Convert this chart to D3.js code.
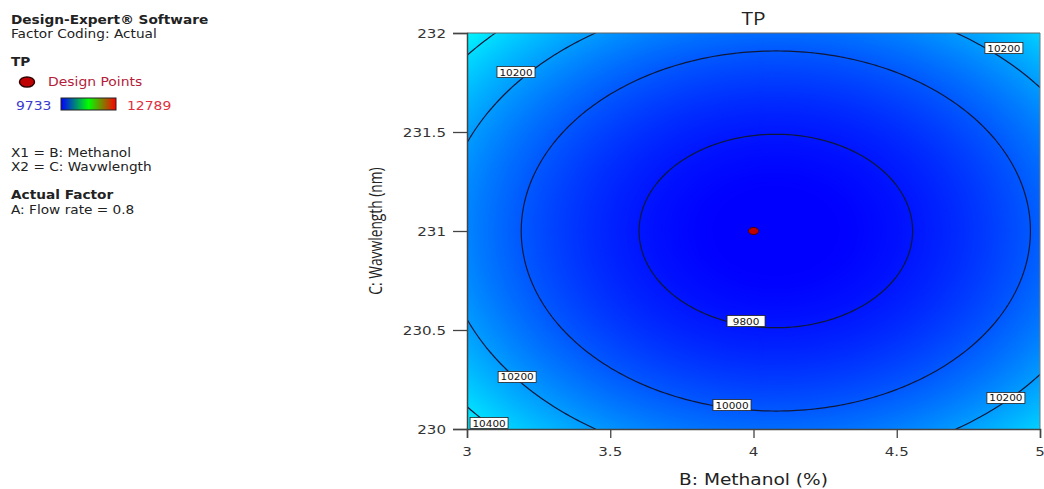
<!DOCTYPE html>
<html>
<head>
<meta charset="utf-8">
<script src="https://cdn.jsdelivr.net/npm/d3@7"></script>
<style>
  body { margin: 0; background: #fff; }
  svg { display: block; font-family: "DejaVu Sans", sans-serif; }
</style>
</head>
<body>
<div id="chart"></div>
<script>
// axis ranges (actual units)
var methanolRange = [3, 5];
var wavelengthRange = [230, 232];
var methanolTicks = [3, 3.5, 4, 4.5, 5];
var wavelengthTicks = [230, 230.5, 231, 231.5, 232];

// quadratic model in coded units: xB = B - 4, xC = C - 231
// TP = b0 + bB*xB + bC*xC + bBB*xB^2 + bCC*xC^2
var modelTerms = ["b0", "bB", "bC", "bBB", "bCC"];
var modelCoefs = [9721, -55.5, 0, 356, 340];

// colour scale of the response
var tpRange = [9733, 12789];
var contourLevels = [9800, 10000, 10200, 10400];

// contour labels: level and where they sit (B, C)
var labelLevels = [10200, 10200, 9800, 10000, 10200, 10400, 10200];
var labelB = [3.171, 4.874, 3.974, 3.925, 3.175, 3.077, 4.881];
var labelC = [231.803, 231.924, 230.545, 230.121, 230.263, 230.03, 230.157];

// design points
var designB = [4];
var designC = [231];

var legendLines = [
    {text: "Design-Expert\u00ae Software", bold: true, y: 24},
    {text: "Factor Coding: Actual", bold: false, y: 38},
    {text: "TP", bold: true, y: 66},
    {text: "X1 = B: Methanol", bold: false, y: 157},
    {text: "X2 = C: Wavwlength", bold: false, y: 171},
    {text: "Actual Factor", bold: true, y: 199},
    {text: "A: Flow rate = 0.8", bold: false, y: 214}
];

var STRETCH = 1.16;  // the original's text is drawn a bit wide

function tp(b, c) {
    var xb = b - 4, xc = c - 231;
    return modelCoefs[0] + modelCoefs[1] * xb + modelCoefs[2] * xc +
        modelCoefs[3] * xb * xb + modelCoefs[4] * xc * xc;
}

function wideText(parent, tx, ty, str) {
    return parent.append("text")
        .attr("transform", "translate(" + tx + "," + ty + ") scale(" + STRETCH + ",1)")
        .text(str);
}

var W = 1044, H = 489;
var plot = {left: 467, right: 1040, top: 33, bottom: 429};

var svg = d3.select("#chart").append("svg")
    .attr("width", W).attr("height", H);

var x = d3.scaleLinear().domain(methanolRange).range([plot.left, plot.right]);
var y = d3.scaleLinear().domain(wavelengthRange).range([plot.bottom, plot.top]);

var color = d3.scaleLinear()
    .domain([0, 0.25, 0.5, 0.75, 1].map(function(t) { return tpRange[0] + t * (tpRange[1] - tpRange[0]); }))
    .range(["#0000ff", "#00ffff", "#00ff00", "#ffff00", "#ff0000"])
    .clamp(true);

/* grid of model values */
var nx = 140, ny = 100;
var values = new Array(nx * ny);
for (var j = 0; j < ny; j++) {
    for (var i = 0; i < nx; i++) {
        var b = methanolRange[0] + i / (nx - 1) * (methanolRange[1] - methanolRange[0]);
        var c = wavelengthRange[0] + j / (ny - 1) * (wavelengthRange[1] - wavelengthRange[0]);
        values[j * nx + i] = tp(b, c);
    }
}

var gridToPx = d3.geoTransform({
    point: function(gx, gy) {
        var b = methanolRange[0] + (gx - 0.5) / (nx - 1) * (methanolRange[1] - methanolRange[0]);
        var c = wavelengthRange[0] + (gy - 0.5) / (ny - 1) * (wavelengthRange[1] - wavelengthRange[0]);
        this.stream.point(x(b), y(c));
    }
});
var path = d3.geoPath(gridToPx);

svg.append("clipPath").attr("id", "clip")
    .append("rect")
    .attr("x", plot.left).attr("y", plot.top)
    .attr("width", plot.right - plot.left).attr("height", plot.bottom - plot.top);

var g = svg.append("g").attr("clip-path", "url(#clip)");

var vmin = d3.min(values), vmax = d3.max(values);
g.append("rect")
    .attr("x", plot.left).attr("y", plot.top)
    .attr("width", plot.right - plot.left).attr("height", plot.bottom - plot.top)
    .attr("fill", color(vmin));

var bands = d3.range(Math.floor(vmin / 4) * 4, vmax, 4);
g.selectAll("path.band")
    .data(d3.contours().size([nx, ny]).thresholds(bands)(values))
    .enter().append("path")
    .attr("class", "band")
    .attr("d", path)
    .attr("fill", function(d) { return color(d.value); })
    .attr("stroke", function(d) { return color(d.value); })
    .attr("stroke-width", 0.6);

g.selectAll("path.level")
    .data(d3.contours().size([nx, ny]).thresholds(contourLevels)(values))
    .enter().append("path")
    .attr("class", "level")
    .attr("d", path)
    .attr("fill", "none")
    .attr("stroke", "#10183a")
    .attr("stroke-width", 1.2);

/* contour labels */
var labels = svg.append("g");
labelLevels.forEach(function(lv, k) {
    var cx = x(labelB[k]), cy = y(labelC[k]);
    labels.append("rect")
        .attr("x", cx - 19).attr("y", cy - 5.5)
        .attr("width", 38).attr("height", 11)
        .attr("fill", "#fff").attr("stroke", "#222").attr("stroke-width", 0.8);
    wideText(labels, cx, cy + 3.5, lv)
        .attr("text-anchor", "middle")
        .attr("font-size", 9)
        .attr("fill", "#111");
});

/* design points */
svg.selectAll("ellipse.pt")
    .data(designB.map(function(b, k) { return [b, designC[k]]; }))
    .enter().append("ellipse")
    .attr("cx", function(d) { return x(d[0]); })
    .attr("cy", function(d) { return y(d[1]); })
    .attr("rx", 5).attr("ry", 3.6)
    .attr("fill", "#c00000").attr("stroke", "#500000").attr("stroke-width", 1);

/* frame */
svg.append("line").attr("x1", plot.left).attr("x2", plot.right)
    .attr("y1", plot.top).attr("y2", plot.top)
    .attr("stroke", "#666").attr("stroke-width", 1);
svg.append("line").attr("x1", plot.right).attr("x2", plot.right)
    .attr("y1", plot.top).attr("y2", plot.bottom)
    .attr("stroke", "#777").attr("stroke-width", 1);

/* axes (ticks from d3, labels drawn wide) */
var xAxis = svg.append("g").attr("transform", "translate(0," + plot.bottom + ")")
    .call(d3.axisBottom(x).tickValues(methanolTicks).tickSize(9).tickFormat(""));
var yAxis = svg.append("g").attr("transform", "translate(" + plot.left + ",0)")
    .call(d3.axisLeft(y).tickValues(wavelengthTicks).tickSize(14).tickFormat(""));
[xAxis, yAxis].forEach(function(a) {
    a.select(".domain").attr("stroke", "#444").attr("stroke-width", 1.5);
    a.selectAll(".tick line").attr("stroke", "#444").attr("stroke-width", 1.3);
});
methanolTicks.forEach(function(t) {
    wideText(svg, x(t), plot.bottom + 27, t)
        .attr("text-anchor", "middle").attr("font-size", 13).attr("fill", "#333");
});
wavelengthTicks.forEach(function(t) {
    wideText(svg, plot.left - 21, y(t) + 5, t)
        .attr("text-anchor", "end").attr("font-size", 13).attr("fill", "#333");
});

/* titles */
wideText(svg, x(4), 25, "TP")
    .attr("text-anchor", "middle").attr("font-size", 18).attr("fill", "#222")
    .attr("font-family", "Open Sans, sans-serif");
wideText(svg, x(4), 485, "B: Methanol (%)")
    .attr("text-anchor", "middle").attr("font-size", 16).attr("fill", "#222");
svg.append("text")
    .attr("transform", "translate(382," + y(231) + ") rotate(-90) scale(0.92,1.15)")
    .attr("text-anchor", "middle").attr("font-size", 15).attr("fill", "#222")
    .attr("font-family", "Open Sans, sans-serif")
    .text("C: Wavwlength (nm)");

/* legend */
var leg = svg.append("g");
legendLines.forEach(function(l) {
    wideText(leg, 11, l.y, l.text)
        .attr("font-size", 11.8).attr("font-weight", l.bold ? "bold" : "normal")
        .attr("fill", "#222");
});
leg.append("ellipse").attr("cx", 27).attr("cy", 82).attr("rx", 7.5).attr("ry", 5)
    .attr("fill", "#c00000").attr("stroke", "#300000").attr("stroke-width", 1.5);
wideText(leg, 48, 86, "Design Points").attr("font-size", 12)
    .attr("fill", "#b4203a");
wideText(leg, 16, 110, tpRange[0]).attr("font-size", 12)
    .attr("fill", "#3a3ad0");
wideText(leg, 127, 110, tpRange[1]).attr("font-size", 12)
    .attr("fill", "#e03040");

var grad = svg.append("defs").append("linearGradient").attr("id", "lg");
[0, 0.5, 1].forEach(function(t, k) {
    grad.append("stop").attr("offset", t)
        .attr("stop-color", ["#0000ff", "#00ff00", "#ff0000"][k]);
});
leg.append("rect").attr("x", 61).attr("y", 98).attr("width", 55).attr("height", 12)
    .attr("fill", "url(#lg)").attr("stroke", "#222").attr("stroke-width", 1);
</script>
</body>
</html>
